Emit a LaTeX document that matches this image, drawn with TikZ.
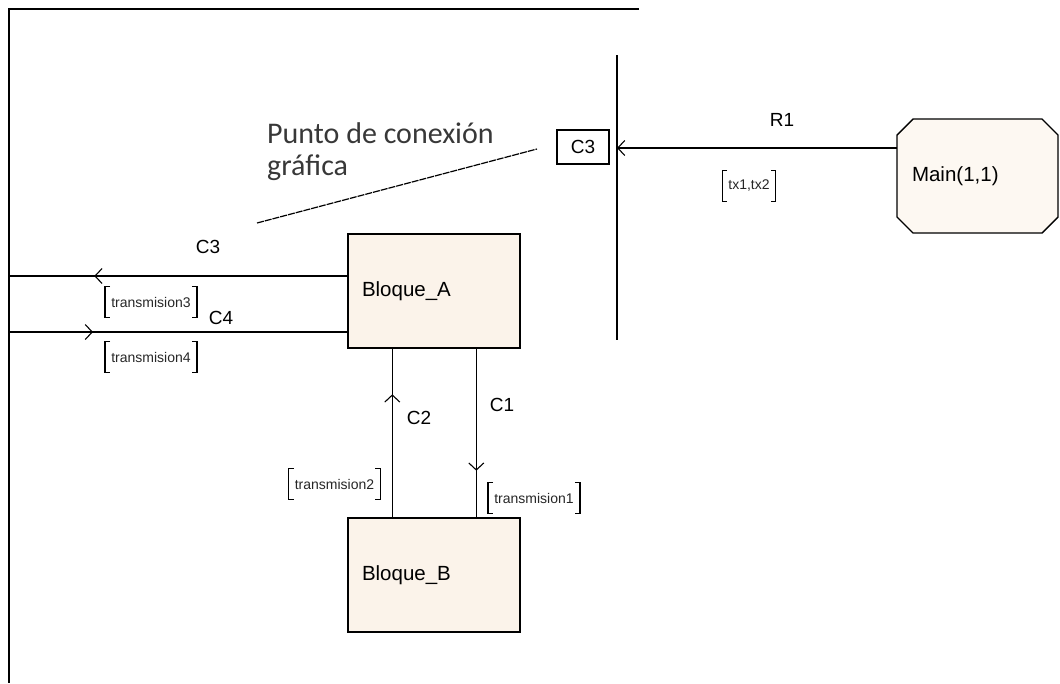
\documentclass[tikz,border=0pt]{standalone}
\usepackage{fontspec}
\setmainfont{Liberation Sans}
\newfontfamily\calib{Carlito}
\usetikzlibrary{arrows.meta,calc,decorations.markings}

\tikzset{
  x=1pt, y=-1pt,
  chev/.tip={Straight Barb[length=7pt,width=15pt,line width=1.1pt]},
  conn/.style={draw=black, line width=1.4pt},
  frame/.style={draw=black, line width=2pt},
  midarrow/.style={postaction={decorate},
    decoration={markings, mark=at position #1 with {\arrow{chev}}}},
  block/.style={draw=black, line width=1.4pt, fill=blockfill,
    minimum height=114pt, text width=144pt, inner xsep=14pt,
    align=left, font=\fontsize{20.5}{22}\selectfont},
  lbl/.style={font=\fontsize{19}{21}\selectfont, inner sep=0pt},
  small/.style={font=\fontsize{14}{15}\selectfont, text=black!85,
    inner xsep=6pt, minimum height=30pt},
  bkt/.style={draw=black, line width=1.3pt},
}
\definecolor{blockfill}{HTML}{FBF3EA}
\definecolor{mainfill}{HTML}{FDF8F2}

% label framed by a pair of square brackets
\newcommand\bracketlabel[3]{%
  \node[small] (#1) at (#2) {#3};
  \draw[bkt] ($(#1.north west)+(5,0)$) -- (#1.north west) -- (#1.south west) -- ++(5,0);
  \draw[bkt] ($(#1.north east)+(-5,0)$) -- (#1.north east) -- (#1.south east) -- ++(-5,0);
}

\begin{document}
\begin{tikzpicture}
\useasboundingbox (0,0) rectangle (1060,683);

% outer frame of the view
\coordinate (ftr) at (639,9);
\coordinate (ftl) at (9,9);
\coordinate (fbl) at (9,683);
\draw[frame] (ftr) -- (ftl) -- (fbl);

% connection bus
\coordinate (bustop) at (617,55);
\coordinate (busbot) at (617,340);
\draw[conn] (bustop) -- (busbot);
\coordinate (c3pt) at (617,148);

% blocks
\node[block] (A) at (434,291) {Bloque\_A};
\node[block] (B) at (434,575) {Bloque\_B};

% Main: octagon with small chamfers, text on top
\coordinate (mc) at (977.5,176);
\filldraw[draw=black, line width=1.4pt, fill=mainfill]
  ($(mc)+(-64.5,-57)$) -- ($(mc)+(64.5,-57)$) -- ($(mc)+(80.5,-41)$)
  -- ($(mc)+(80.5,41)$) -- ($(mc)+(64.5,57)$) -- ($(mc)+(-64.5,57)$)
  -- ($(mc)+(-80.5,41)$) -- ($(mc)+(-80.5,-41)$) -- cycle;
\node[minimum width=161pt, minimum height=114pt, text width=131pt,
      inner xsep=15pt, align=left, font=\fontsize{20.5}{22}\selectfont]
      (M) at (mc) {Main(1,1)};

% graphical connection point
\node[draw=black, line width=1.4pt, minimum width=52pt, minimum height=34pt,
      inner sep=0pt, font=\fontsize{19}{21}\selectfont] (C3box) at (583,147) {C3};

% R1
\draw[conn, -{chev}] (M.west |- c3pt) -- (c3pt);
\node[lbl] (r1) at (782,120) {R1};
\bracketlabel{tx}{749,186}{tx1,tx2}

% annotation (anchored on the baseline of its last line)
\node[anchor=base west, align=left, inner sep=0pt,
      font=\calib\fontsize{30}{32}\selectfont, text=black!78]
      (note) at (267,175) {Punto de conexión\\gráfica};
\coordinate (ptrA) at (257,223);
\coordinate (ptrB) at (537,149);
\draw[line width=1.2pt, dash pattern=on 7pt off 1pt] (ptrA) -- (ptrB);

% C3 and C4 towards the outer frame
\coordinate (l3) at (9,276);
\coordinate (l4) at (9,332);
\draw[conn, midarrow=253pt] (A.west |- l3) -- (l3);
\draw[conn, midarrow=84pt] (l4) -- (A.west |- l4);
\node[lbl] (c3l) at (208,247) {C3};
\node[lbl] (c4l) at (221,318) {C4};
\bracketlabel{t3}{151,302}{transmision3}
\bracketlabel{t4}{151,357}{transmision4}

% C1 and C2 between the blocks
\coordinate (c2top) at ($(A.south west)+(45,0)$);
\coordinate (c1top) at ($(A.south west)+(129,0)$);
\draw[conn, midarrow=123pt] (c2top |- B.north) -- (c2top);
\draw[conn, midarrow=122pt] (c1top) -- (c1top |- B.north);
\node[lbl] (c2l) at (419,418) {C2};
\node[lbl] (c1l) at (502,405) {C1};
\bracketlabel{t2}{334.5,484}{transmision2}
\bracketlabel{t1}{534,498}{transmision1}

\end{tikzpicture}
\end{document}
